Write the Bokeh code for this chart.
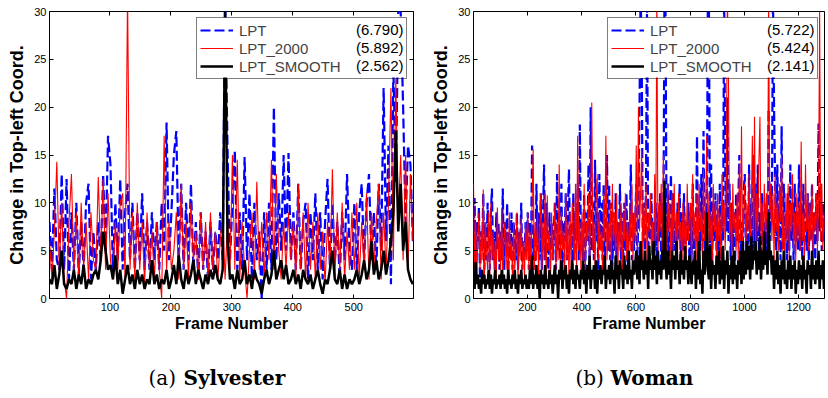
from bokeh.plotting import figure
from bokeh.layouts import row, column
from bokeh.models import (Range1d, LinearAxis, Legend, LegendItem, Label, FixedTicker,
                          BoxAnnotation)
from bokeh.embed import file_html
from bokeh.resources import INLINE

# ---------------- data ----------------
series_names = ["LPT", "LPT_2000", "LPT_SMOOTH"]
y_ticks = [0, 5, 10, 15, 20, 25, 30]

# Sylvester (sampled every 4 frames)
syl_step = 4
syl_ticks = [100, 200, 300, 400, 500]
syl_scores = ["(6.790)", "(5.892)", "(2.562)"]
syl_lpt = [
    8, 3, 11.5, 4, 3, 13, 3, 12.5, 2, 9, 3, 10, 2.5, 8, 3, 10, 12, 2, 7, 3, 8, 4, 13, 5, 17,
    14, 3, 10, 4, 12.5, 3, 9, 12, 4, 10, 3, 9, 4, 11, 3, 8, 3, 9, 4, 8, 3, 10, 5, 18.4, 4,
    9, 15, 17.5, 4, 12, 3, 10, 4, 12, 3, 8, 2, 9, 3, 7, 2, 8, 3, 7, 4, 9, 4, 32, 15.5, 4,
    10, 15.5, 3, 9, 3, 14.8, 4, 11, 2, 10, 4, 7, 0, 9, 3, 10, 3, 20, 4, 11, 5, 15, 5, 15.2, 4,
    9, 3, 12, 3, 8, 10, 2, 9, 4, 11, 3, 9, 2, 8, 12.5, 3, 10, 4, 8, 2, 9, 4, 13, 5, 3,
    10, 3, 9, 12, 4, 10, 13, 4, 9, 3, 12, 5, 22, 6, 16, 1.5, 24, 12, 30, 30, 20, 8, 16, 14, 6,
]
syl_lpt2000 = [
    6, 2, 7, 14.3, 3, 10, 2, 0, 8, 13, 3, 9, 2, 10, 3, 8, 2, 9, 4, 3, 12.7, 4, 12.5, 3, 11,
    4, 2, 8, 3, 10, 11, 2, 32, 3, 9, 2, 10, 3, 8, 1.5, 9, 3, 7, 2, 8, 3, 0, 17, 3, 8,
    3, 5, 9, 2, 12, 3, 8, 2, 10, 4, 7, 2, 9, 3, 8, 2, 9, 3, 7, 2, 6, 9, 2, 8, 3,
    15, 3, 14.5, 2, 8, 3, 0, 5, 9, 2, 12.2, 3, 8, 2, 9, 4, 14.5, 3, 13, 5, 2, 8, 3, 9, 4,
    8, 2, 12, 3, 9, 2, 10, 3, 8, 2, 9, 3, 7, 1.5, 8, 3, 13.5, 2, 9, 3, 10, 2, 7, 3, 9,
    3, 10, 2, 8, 3, 11, 2, 9, 3, 8, 12, 2, 9, 3, 10, 22, 4, 23, 8, 15, 4, 15, 3, 13, 6,
]
syl_smooth = [
    2, 1.5, 3.5, 1, 2.5, 5, 1.5, 1, 2, 1.5, 3, 1, 2.5, 1.5, 3.5, 1, 2, 1.5, 2.5, 3, 2, 4, 7, 5, 3,
    3.5, 2, 4.5, 1.5, 3, 0.5, 2, 3.5, 1.5, 2.5, 1, 3, 1.5, 2.5, 1, 2, 1.5, 4, 1.5, 2.5, 1, 2, 1.5, 3, 1,
    2, 3.5, 1.5, 4.5, 2, 1, 3, 1.5, 2.5, 4, 1.5, 3, 2, 1, 2.5, 1.5, 3, 2, 3.5, 2, 1.5, 3, 30, 6, 2,
    2.5, 1, 3, 1.5, 2, 4, 1.5, 2.5, 1, 3, 2, 1.5, 0.5, 2, 3, 1.5, 2.5, 5, 2, 3, 4, 2, 3.5, 1.5, 2,
    3, 1.5, 2.5, 1, 3, 2, 1.5, 2.5, 1, 2, 3, 1.5, 0.5, 2, 1.5, 3, 5, 2, 1.5, 3, 1, 2.5, 1, 2, 1.5,
    2, 3, 1.5, 2.5, 4, 2, 3, 6, 2.5, 4, 2, 3, 5, 2.5, 4, 6, 9, 17.5, 7, 12, 5, 8, 3, 2, 1.5,
]

# Woman (sampled every 4 frames)
wom_step = 4
wom_ticks = [200, 400, 600, 800, 1000, 1200]
wom_scores = ["(5.722)", "(5.424)", "(2.141)"]
wom_lpt = [
    4, 10.5, 3, 8, 6, 9.5, 2, 7, 5, 11, 3, 8, 4, 10, 6, 3, 9, 11.5, 4, 7, 3, 9, 5, 8, 3,
    7, 4, 11.5, 3, 8, 5, 10, 2, 7, 4, 9, 3, 8, 6, 4, 9, 3, 7, 5, 10, 3, 6, 4, 8, 5,
    9, 3, 8, 5, 16, 4, 7, 3, 12, 5, 9, 4, 11, 3, 8, 14, 4, 10, 6, 3, 9, 5, 8, 4, 7,
    10, 3, 13, 5, 9, 4, 12, 3, 8, 6, 11, 4, 9, 13.5, 5, 8, 3, 11, 4, 9, 6, 12, 4, 18.2, 5,
    8, 4, 11, 3, 9, 6, 14, 4, 20, 5, 10, 4, 14.5, 6, 9, 3, 13, 5, 10, 4, 12, 3, 8, 15, 5,
    12, 4, 10, 3, 9, 5, 11, 3, 8, 6, 12, 4, 9, 3, 10, 5, 11, 3, 8, 6, 14, 4, 9, 5, 8,
    12, 4, 9, 20, 32, 26, 6, 10, 5, 12, 32, 4, 9, 6, 11, 3, 8, 5, 10, 4, 9, 6, 11, 4, 10,
    6, 32, 30, 5, 12, 4, 9, 13, 3, 11, 5, 8, 4, 10, 6, 12, 3, 9, 5, 11, 4, 8, 6, 10, 4,
    9, 4, 12, 5, 8, 6, 17, 4, 10, 5, 13, 6, 17.5, 4, 9, 6, 32, 30, 5, 14, 4, 10, 6, 11, 5,
    8, 5, 12, 4, 10, 6, 32, 14, 7, 21, 6, 12, 4, 10, 5, 9, 3, 11, 6, 10, 15, 5, 8, 4, 11,
    13, 5, 9, 4, 14, 6, 10, 5, 15, 4, 12, 6, 14, 5, 9, 4, 11, 6, 8, 5, 10, 4, 19.8, 6, 12,
    8, 32, 20, 12, 5, 14, 6, 10, 4, 18, 5, 12, 6, 9, 4, 11, 5, 14, 6, 10, 4, 12, 6, 9, 5,
    14, 5, 10, 4, 12, 6, 9, 5, 11, 4, 10, 6, 12, 5, 9, 4, 11, 6, 18.3, 7, 12, 5, 10, 6, 9,
]
wom_lpt2000 = [
    12, 3, 8, 2, 6, 9, 3, 7, 4, 11.4, 2, 8, 5, 3, 9, 2, 10, 4, 7, 3, 6, 2, 9.5, 4, 7,
    3, 9.5, 2, 6, 8, 3, 7, 2, 9, 4, 6, 2, 8, 3, 5, 9, 2, 7, 4, 8.5, 3, 6, 2, 8, 4,
    9, 3, 7, 2, 10, 15.6, 3, 8, 4, 9, 2, 7, 11, 3, 8, 4, 11, 2, 10.8, 5, 7, 2, 9, 4, 6,
    10, 3, 8, 4, 14, 2, 9, 5, 7, 3, 11, 4, 8, 2, 9, 3, 10, 6, 4, 12, 3, 17, 5, 8, 3,
    9, 4, 12, 3, 8, 6, 11, 4, 9, 20.5, 5, 8, 3, 10, 13, 4, 9, 5, 7, 3, 11, 6, 17, 4, 8,
    5, 10, 3, 12, 6, 9, 4, 11, 3, 8, 5, 10, 2, 9, 6, 11, 4, 8, 3, 10, 5, 12, 4, 9, 6,
    16, 5, 20, 7, 11, 15.5, 4, 10, 6, 12, 3, 9, 7, 11, 5, 8, 4, 13, 6, 32, 5, 10, 7, 12, 4,
    15, 6, 9, 4, 12, 7, 10, 3, 11, 5, 12, 6, 9, 4, 11, 6, 8, 3, 10, 5, 9, 4, 12, 6, 8,
    10, 4, 13, 6, 9, 3, 11, 5, 12, 7, 9, 4, 13.5, 6, 10, 17, 5, 11, 6, 9, 3, 12, 7, 10, 4,
    11, 6, 9, 4, 13, 7, 10, 5, 12, 32, 23, 6, 10, 4, 12, 7, 9, 5, 11, 4, 14, 6, 18, 5, 9,
    12, 5, 10, 7, 13, 4, 9, 17, 6, 19, 5, 11, 7, 14, 19, 6, 10, 4, 12, 7, 11, 5, 32, 8, 12,
    6, 11, 4, 13, 7, 10, 5, 12, 8, 15, 5, 9, 3, 11, 6, 12, 4, 10, 7, 13, 5, 9, 4, 11, 6,
    10, 5, 16.4, 6, 9, 4, 14, 7, 11, 5, 10, 6, 12, 4, 9, 7, 11, 5, 10, 30, 6, 12, 5, 9, 7,
]
wom_smooth = [
    2, 1, 3.8, 1.5, 2.5, 1, 2, 0.5, 3, 1.5, 2.5, 1, 2, 1.5, 3, 1, 2.5, 0.5, 2, 1.5, 3, 1, 2, 1.5, 2.5,
    1, 3, 1.5, 2.5, 1, 2, 0.5, 3, 1.5, 2, 1, 2.5, 1.5, 3, 1, 2, 0.5, 2.5, 1.5, 3, 1, 2, 1.5, 2.5, 1,
    2, 1, 3, 1.5, 4.5, 1, 2.5, 1.5, 3.5, 1, 2.5, 0, 3, 1.5, 2.5, 1, 3.5, 1.5, 2, 1, 3, 1.5, 2.5, 0.5, 2,
    3.5, 1.5, 2.5, 0, 3, 2, 4, 1, 3, 2, 3.5, 1, 2.5, 0.5, 3, 2, 4, 1.5, 3, 1, 3.5, 2, 2.5, 1, 3,
    2, 4, 1.5, 3, 0.5, 3.5, 2, 4.5, 1, 3, 2, 3.5, 1, 4, 0.5, 3, 2, 3.5, 1.5, 3, 2.5, 4.5, 1, 3, 2,
    3.5, 1.5, 4, 2, 3, 0.5, 4.5, 2, 3.5, 1, 4, 2.5, 3, 1, 4.5, 2, 3.5, 1.5, 5, 2, 3, 1, 4, 2.5, 3.5,
    5, 2, 4.5, 1.5, 6, 3, 4, 2, 5, 2.5, 4, 1, 5.5, 3, 4, 2, 6, 3, 4.5, 1.5, 5, 2.5, 4, 2, 5,
    3, 12.3, 4, 2, 5, 2.5, 4, 1, 5, 3, 4.5, 2, 6, 3, 4, 1.5, 5, 2.5, 4, 2, 5.5, 3, 4, 1.5, 4.5,
    3, 1.5, 4, 2.5, 5, 1, 4, 2, 6, 1.5, 3, 0.5, 5, 2.5, 4, 9, 3, 2, 5.5, 1, 4, 2.5, 3.5, 1, 4.5,
    2.5, 5, 1.5, 4, 2, 5.5, 1, 4, 2.5, 5, 0.5, 3.5, 2, 4.5, 1.5, 5, 2, 3.5, 1, 4, 2.5, 5, 1.5, 6, 2,
    5, 2.5, 6, 3, 5.5, 2, 6.5, 3, 5, 4, 6, 2.5, 5, 3, 6.5, 2, 5, 3, 7, 3.5, 5, 2.5, 9, 4, 5,
    2.5, 4.5, 1, 4, 2, 5, 1.5, 3.5, 0.5, 4, 2, 5, 1.5, 3, 1, 4, 2, 4.5, 1, 3.5, 2, 4, 0.5, 3, 1.5,
    4, 2, 3.5, 1, 4.5, 2, 3, 0.5, 4, 2.5, 3.5, 1, 5, 2, 3.5, 1.5, 4, 2, 5, 1, 3.5, 2, 4, 1, 3,
]

# ---------------- layout constants ----------------
MB_TOP = 11
FRAME_H = 287
MB_BOTTOM = 40
H_MAIN = MB_TOP + FRAME_H + MB_BOTTOM
H_CAP = 58
SANS = "Liberation Sans"
SERIF = "DejaVu Serif"
LEG_W, LEG_H, LEG_M = 209, 60, 6


def panel(step, lpt, l2000, smooth, scores, ticks, xmax, width, mb_left, mb_right):
    frame_w = width - mb_left - mb_right
    p = figure(width=width, height=H_MAIN, output_backend="svg", toolbar_location=None,
               x_range=Range1d(1, xmax), y_range=Range1d(0, 30),
               min_border_left=mb_left, min_border_right=mb_right,
               min_border_top=MB_TOP, min_border_bottom=MB_BOTTOM)
    p.xgrid.visible = False
    p.ygrid.visible = False
    p.outline_line_color = "black"
    p.outline_line_width = 1
    p.background_fill_color = "white"
    p.border_fill_color = "white"

    def frames(vals):
        return list(range(1, 1 + step * len(vals), step))

    r1 = p.line(frames(lpt), lpt, line_color="#0000ff", line_width=2.2, line_dash="10 4")
    r2 = p.line(frames(l2000), l2000, line_color="#ff0000", line_width=1.1)
    r3 = p.line(frames(smooth), smooth, line_color="black", line_width=2.5)

    for ax in p.xaxis:
        ax.ticker = FixedTicker(ticks=ticks)
    for ax in p.yaxis:
        ax.ticker = FixedTicker(ticks=y_ticks)
    for ax in list(p.xaxis) + list(p.yaxis):
        ax.major_tick_in = 4
        ax.major_tick_out = 0
        ax.minor_tick_line_color = None
        ax.axis_line_color = None
        ax.major_tick_line_color = "black"
        ax.major_label_text_font = SANS
        ax.major_label_text_font_size = "11px"
        ax.major_label_text_color = "black"
        ax.axis_label_text_font = SANS
        ax.axis_label_text_font_style = "bold"
        ax.axis_label_text_color = "black"
    p.xaxis.axis_label = "Frame Number"
    p.xaxis.axis_label_text_font_size = "16px"
    p.xaxis.major_label_standoff = 4
    p.xaxis.axis_label_standoff = 1
    p.yaxis.axis_label = "Change in Top-left Coord."
    p.yaxis.axis_label_text_font_size = "18px"
    p.yaxis.major_label_standoff = 3
    p.yaxis.axis_label_standoff = 4

    # mirrored ticks on the top and right edges (box on)
    top = LinearAxis(ticker=FixedTicker(ticks=ticks), major_tick_in=4, major_tick_out=0,
                     minor_tick_line_color=None, axis_line_color=None,
                     major_tick_line_color="black",
                     major_label_text_font_size="1px", major_label_text_color=None,
                     major_label_standoff=0)
    right = LinearAxis(ticker=FixedTicker(ticks=y_ticks), major_tick_in=4, major_tick_out=0,
                       minor_tick_line_color=None, axis_line_color=None,
                       major_tick_line_color="black",
                       major_label_text_font_size="1px", major_label_text_color=None,
                       major_label_standoff=0)
    p.add_layout(top, "above")
    p.add_layout(right, "right")

    xs = (xmax - 1) / frame_w
    ys = 30.0 / FRAME_H
    # white backing of the legend box
    p.add_layout(BoxAnnotation(left=xmax - (LEG_M + LEG_W) * xs, right=xmax - LEG_M * xs,
                               top=30 - LEG_M * ys, bottom=30 - (LEG_M + LEG_H) * ys,
                               fill_color="white", fill_alpha=1, line_color=None,
                               level="annotation"))

    legend = Legend(items=[LegendItem(label=series_names[0], renderers=[r1]),
                           LegendItem(label=series_names[1], renderers=[r2]),
                           LegendItem(label=series_names[2], renderers=[r3])],
                    location="top_right", margin=LEG_M, padding=3, spacing=0,
                    glyph_width=33, glyph_height=18, label_height=18,
                    label_standoff=6, label_width=LEG_W - 6 - 33 - 6,
                    label_text_font=SANS, label_text_font_size="15px",
                    border_line_color="black", border_line_width=1,
                    background_fill_alpha=0)
    p.add_layout(legend, "center")

    # numbers at the right end of the legend rows
    for i, s in enumerate(scores):
        p.add_layout(Label(x=xmax - 10 * xs, y=30 - (LEG_M + 12 + 18 * i) * ys, text=s,
                           text_align="right", text_baseline="middle",
                           text_font=SANS, text_font_size="15px",
                           text_color="black", level="overlay"))
    return p


def caption(width, tag, name, tag_px):
    c = figure(width=width, height=H_CAP, output_backend="svg", toolbar_location=None,
               x_range=Range1d(0, width), y_range=Range1d(0, H_CAP),
               x_axis_type=None, y_axis_type=None, min_border=0)
    c.outline_line_color = None
    c.xgrid.visible = False
    c.ygrid.visible = False
    c.add_layout(Label(x=tag_px, y=H_CAP - 39, text=tag, text_align="left",
                       text_baseline="middle", text_font=SERIF,
                       text_font_size="20px", text_color="black"))
    c.add_layout(Label(x=tag_px + 35, y=H_CAP - 39, text=name, text_align="left",
                       text_baseline="middle", text_font=SERIF,
                       text_font_style="bold", text_font_size="20px", text_color="black"))
    return c


W_LEFT, W_RIGHT = 425, 401
left = panel(syl_step, syl_lpt, syl_lpt2000, syl_smooth, syl_scores, syl_ticks, 598,
             W_LEFT, 49, 12)
right = panel(wom_step, wom_lpt, wom_lpt2000, wom_smooth, wom_scores, wom_ticks, 1295,
              W_RIGHT, 48, 2)
cap_left = caption(W_LEFT, "(a)", "Sylvester", 148)
cap_right = caption(W_RIGHT, "(b)", "Woman", 150)

layout = column(row(left, right, spacing=0), row(cap_left, cap_right, spacing=0), spacing=0)
open("out.html", "w").write(file_html(layout, INLINE))
